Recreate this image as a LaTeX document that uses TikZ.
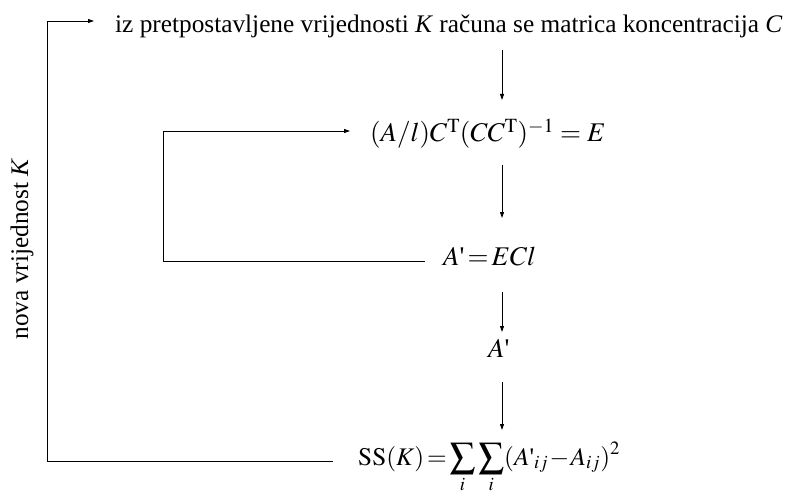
\documentclass[tikz,border=0pt]{standalone}
\usepackage{amsmath}
\usepackage{mathptmx}
\usepackage{fontspec}
\setmainfont{Liberation Serif}
\usetikzlibrary{arrows.meta, calc}
\newcommand{\apos}{\text{\textquotesingle}}

\begin{document}
\begin{tikzpicture}[x=1pt, y=-1pt,
    txt/.style={inner sep=0pt, font=\fontsize{25.3}{30}\selectfont},
    eq/.style={inner sep=0pt, font=\fontsize{27}{32}\selectfont},
    flow/.style={line width=0.9pt, -{Triangle[length=6pt, width=4pt]}},
    loop/.style={line width=0.9pt}]
    \useasboundingbox (0,0) rectangle (794,497);

    % the steps, top to bottom
    \node[txt, anchor=base west] (start) at (115,33)
      {iz pretpostavljene vrijednosti \textit{K} računa se matrica koncentracija \textit{C}};
    \node[eq, anchor=base west] (eform) at (370,142)
      {$(A/l)C^{\mathrm{T}}(CC^{\mathrm{T}})^{-1} = E$};
    \node[eq, anchor=base west] (aecl) at (443,265)
      {$\thickmuskip=2mu A\apos = ECl$};
    \node[eq, anchor=base west] (aprime) at (488,357) {$A\apos$};
    \node[txt, anchor=base west] (ssk) at (358,465)
      {$\thickmuskip=2mu \medmuskip=1mu
        \mathrm{SS}(K) = \displaystyle\sum_i\sum_i (A\apos_{ij} - A_{ij})^2$};
    \node[txt, rotate=90] (newk) at (22,249) {nova vrijednost \textit{K}};

    % straight down
    \coordinate (axis) at (502,0);
    \draw[flow, shorten <=17pt, shorten >=42pt] (start.base -| axis) -- (eform.base -| axis);
    \draw[flow, shorten <=23pt, shorten >=47pt] (eform.base -| axis) -- (aecl.base -| axis);
    \draw[flow, shorten <=27pt, shorten >=25pt] (aecl.base -| axis) -- (aprime.base -| axis);
    \draw[flow, shorten <=25pt, shorten >=35pt] (aprime.base -| axis) -- (ssk.base -| axis);

    % inner loop: A' back to E
    \coordinate (innerc) at (163,131);
    \draw[flow, shorten >=20pt]
      ([xshift=-18pt, yshift=4pt]aecl.base west) -| (innerc) -- (innerc -| eform.west);

    % outer loop: new K
    \coordinate (outerc) at (47,21);
    \draw[flow, shorten >=21pt]
      ([xshift=-25pt, yshift=4pt]ssk.base west) -| (outerc) -- (outerc -| start.west);
  \end{tikzpicture}
\end{document}
